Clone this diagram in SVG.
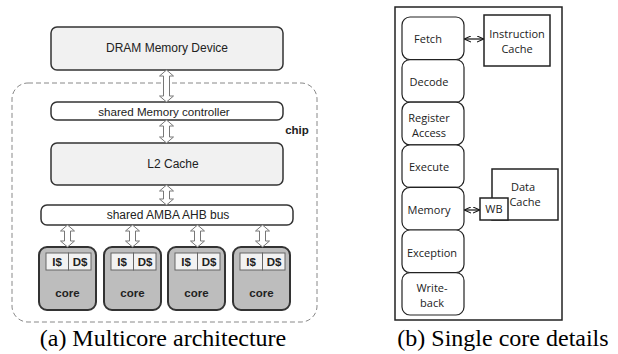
<svg xmlns="http://www.w3.org/2000/svg" width="618" height="354" viewBox="0 0 618 354">
<style>
.big{fill:#f1f1f1;stroke:#333;stroke-width:1.5}
.bus{fill:#fff;stroke:#333;stroke-width:1.5}
.core{fill:#bdbdbd;stroke:#333;stroke-width:2}
.cache{fill:#f2f2f2;stroke:#666;stroke-width:1}
.harr{fill:#fff;stroke:#777;stroke-width:1}
.t{font-family:"Liberation Sans",Arial,sans-serif;fill:#222;text-anchor:middle;dominant-baseline:central}
.tb{font-family:"Liberation Sans",Arial,sans-serif;font-weight:bold;fill:#222;text-anchor:middle;dominant-baseline:central;font-size:11.5px}
.stage{fill:#fff;stroke:#222;stroke-width:1.2}
.box{fill:#fff;stroke:#222;stroke-width:1.5}
.c{font-family:"Open Sans","Noto Sans",sans-serif;fill:#222;text-anchor:middle;font-size:11px}
.cap{font-family:"Liberation Serif","Times New Roman",serif;fill:#000;text-anchor:middle;font-size:24px}
.ln{stroke:#111;stroke-width:1.2;fill:none}
</style>
<defs>
<marker id="ah" viewBox="0 0 8 8" refX="7" refY="4" markerWidth="7" markerHeight="7" markerUnits="userSpaceOnUse" orient="auto-start-reverse">
<path d="M0,0.5 L8,4 L0,7.5" fill="none" stroke="#111" stroke-width="1.2"/>
</marker>
</defs>
<rect x="12" y="83" width="305" height="239" rx="16" fill="none" stroke="#888" stroke-width="1" stroke-dasharray="5,3"/>
<text x="297" y="130" class="tb" font-size="10px">chip</text>
<g id="dram"><rect class="big" x="51" y="27" width="232" height="43" rx="6"/><text class="t" x="167" y="48" font-size="12px">DRAM Memory Device</text></g>
<g id="memctrl"><rect class="bus" x="51" y="102" width="232" height="18" rx="6"/><text class="t" x="164" y="111" font-size="11.6px">shared Memory controller</text></g>
<g id="l2"><rect class="big" x="51" y="143" width="232" height="42" rx="6"/><text class="t" x="173" y="164" font-size="12px">L2 Cache</text></g>
<g id="amba"><rect class="bus" x="41" y="205" width="252" height="20" rx="6"/><text class="t" x="168" y="215" font-size="12px">shared AMBA AHB bus</text></g>
<g id="core1"><rect class="core" x="39" y="247" width="57" height="63" rx="8"/><rect class="cache" x="46" y="253" width="22.5" height="17"/><rect class="cache" x="68.5" y="253" width="22.5" height="17"/><text class="tb" x="57" y="262">I$</text><text class="tb" x="80" y="262">D$</text><text class="tb" x="67.5" y="293">core</text></g>
<g id="core2"><rect class="core" x="104" y="247" width="57" height="63" rx="8"/><rect class="cache" x="111" y="253" width="22.5" height="17"/><rect class="cache" x="133.5" y="253" width="22.5" height="17"/><text class="tb" x="122" y="262">I$</text><text class="tb" x="145" y="262">D$</text><text class="tb" x="132.5" y="293">core</text></g>
<g id="core3"><rect class="core" x="168" y="247" width="57" height="63" rx="8"/><rect class="cache" x="175" y="253" width="22.5" height="17"/><rect class="cache" x="197.5" y="253" width="22.5" height="17"/><text class="tb" x="186" y="262">I$</text><text class="tb" x="209" y="262">D$</text><text class="tb" x="196.5" y="293">core</text></g>
<g id="core4"><rect class="core" x="233" y="247" width="57" height="63" rx="8"/><rect class="cache" x="240" y="253" width="22.5" height="17"/><rect class="cache" x="262.5" y="253" width="22.5" height="17"/><text class="tb" x="251" y="262">I$</text><text class="tb" x="274" y="262">D$</text><text class="tb" x="261.5" y="293">core</text></g>
<g id="connectors-a">
<path class="harr" d="M166.5,70 L173.5,76 L169.5,76 L169.5,96 L173.5,96 L166.5,102 L159.5,96 L163.5,96 L163.5,76 L159.5,76 Z"/>
<path class="harr" d="M166.5,120 L173.5,126 L169.5,126 L169.5,137 L173.5,137 L166.5,143 L159.5,137 L163.5,137 L163.5,126 L159.5,126 Z"/>
<path class="harr" d="M166.5,185 L173.5,191 L169.5,191 L169.5,199 L173.5,199 L166.5,205 L159.5,199 L163.5,199 L163.5,191 L159.5,191 Z"/>
<path class="harr" d="M67.5,225 L74.5,231 L70.5,231 L70.5,241 L74.5,241 L67.5,247 L60.5,241 L64.5,241 L64.5,231 L60.5,231 Z"/>
<path class="harr" d="M132.5,225 L139.5,231 L135.5,231 L135.5,241 L139.5,241 L132.5,247 L125.5,241 L129.5,241 L129.5,231 L125.5,231 Z"/>
<path class="harr" d="M197.5,225 L204.5,231 L200.5,231 L200.5,241 L204.5,241 L197.5,247 L190.5,241 L194.5,241 L194.5,231 L190.5,231 Z"/>
<path class="harr" d="M262.5,225 L269.5,231 L265.5,231 L265.5,241 L269.5,241 L262.5,247 L255.5,241 L259.5,241 L259.5,231 L255.5,231 Z"/>
</g>
<text class="cap" x="163" y="346">(a) Multicore architecture</text>
<rect x="395" y="7" width="167" height="313" fill="#fff" stroke="#222" stroke-width="1.5"/>
<g id="fetch"><rect class="stage" x="402" y="17" width="62" height="42.6" rx="8"/><text class="c" x="428" y="43">Fetch</text></g>
<g id="decode"><rect class="stage" x="402" y="59.6" width="62" height="42.6" rx="8"/><text class="c" x="429" y="86">Decode</text></g>
<g id="regaccess"><rect class="stage" x="402" y="102.2" width="62" height="42.6" rx="8"/><text class="c" x="429" y="122">Register</text><text class="c" x="429" y="137">Access</text></g>
<g id="execute"><rect class="stage" x="402" y="144.8" width="62" height="42.6" rx="8"/><text class="c" x="429" y="171">Execute</text></g>
<g id="memory"><rect class="stage" x="402" y="187.4" width="62" height="42.6" rx="8"/><text class="c" x="429" y="214">Memory</text></g>
<g id="exception"><rect class="stage" x="402" y="230" width="62" height="42.6" rx="8"/><text class="c" x="432" y="257">Exception</text></g>
<g id="writeback"><rect class="stage" x="402" y="272.6" width="62" height="42.4" rx="8"/><text class="c" x="432" y="292">Write-</text><text class="c" x="432" y="307">back</text></g>
<g id="icache"><rect class="box" x="484" y="15" width="66" height="51"/><text class="c" x="517" y="38">Instruction</text><text class="c" x="517" y="53">Cache</text></g>
<g id="dcache"><rect class="box" x="492" y="169" width="66" height="51"/><text class="c" x="523" y="191">Data</text><text class="c" x="525" y="206">Cache</text></g>
<g id="wb"><rect class="box" x="480" y="198" width="28" height="22"/><text class="c" x="494" y="213">WB</text></g>
<g id="connectors-b">
<line class="ln" x1="465" y1="39" x2="483" y2="39" marker-start="url(#ah)" marker-end="url(#ah)"/>
<line class="ln" x1="465" y1="210" x2="479" y2="210" marker-start="url(#ah)" marker-end="url(#ah)"/>
</g>
<text class="cap" x="503" y="346">(b) Single core details</text>
</svg>
